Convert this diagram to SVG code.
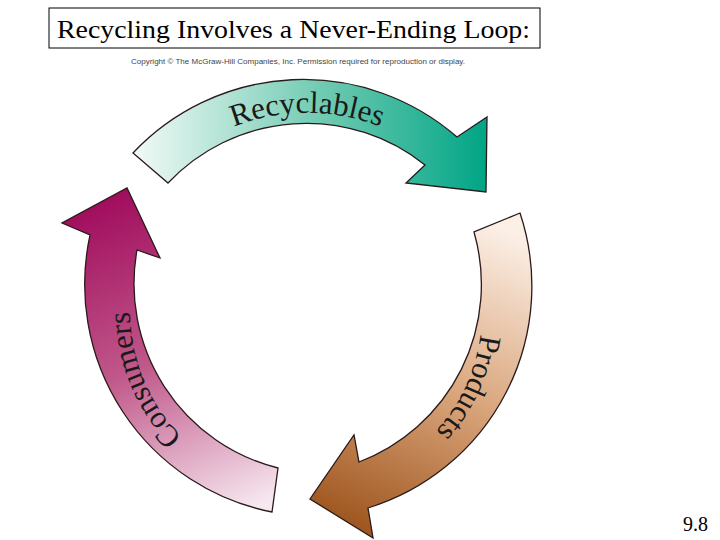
<svg xmlns="http://www.w3.org/2000/svg" width="720" height="540" viewBox="0 0 720 540">
<style>
.arrow{stroke:#2a1a1a;stroke-width:1.3;stroke-linejoin:miter}
.lbl{font-family:"Liberation Serif",serif;font-size:31px;fill:#1a1a1a}
</style>
<defs>
<linearGradient id="gR" x1="133" y1="0" x2="487" y2="0" gradientUnits="userSpaceOnUse"><stop offset="0" stop-color="#f2faf7"/><stop offset="0.55" stop-color="#6cc9b0"/><stop offset="1" stop-color="#00a586"/></linearGradient>
<linearGradient id="gP" x1="470" y1="215" x2="330" y2="530" gradientUnits="userSpaceOnUse"><stop offset="0" stop-color="#fcefe6"/><stop offset="0.5" stop-color="#d9a47a"/><stop offset="1" stop-color="#9a5018"/></linearGradient>
<linearGradient id="gC" x1="250" y1="510" x2="110" y2="190" gradientUnits="userSpaceOnUse"><stop offset="0" stop-color="#f7e8f0"/><stop offset="0.5" stop-color="#c0588a"/><stop offset="1" stop-color="#a00a5c"/></linearGradient>
<path id="tR" d="M166,171 A200,200 0 0 1 448,171"/>
<path id="tP" d="M479,282 A175,175 0 0 1 395,464"/>
<path id="tC" d="M219,465 A177,177 0 0 1 136,266"/>
</defs>
<rect width="720" height="540" fill="#fff"/>
<g id="title">
<rect x="49" y="8" width="491" height="40" fill="#fff" stroke="#000" stroke-width="1"/>
<text x="57" y="38" font-family="Liberation Serif,serif" font-size="26" textLength="473" lengthAdjust="spacingAndGlyphs" fill="#000">Recycling Involves a Never-Ending Loop:</text>
</g>
<text x="131" y="64" font-family="Liberation Sans,sans-serif" font-size="7.8" textLength="334" lengthAdjust="spacingAndGlyphs" fill="#444">Copyright © The McGraw-Hill Companies, Inc. Permission required for reproduction or display.</text>
<g id="connectors">
<g id="recyclables">
<path class="arrow" fill="url(#gR)" d="M133,153 A234,234 0 0 1 457,137 L487,117 L486,192 L406,183 L425,165 A190,190 0 0 0 168,183 Z"/>
<text class="lbl"><textPath href="#tR" startOffset="50%" text-anchor="middle">Recyclables</textPath></text>
</g>
<g id="products">
<path class="arrow" fill="url(#gP)" d="M520,213 A232,232 0 0 1 368,508 L373,538 L310,499 L354,435 L359,462 A190,190 0 0 0 474,232 Z"/>
<text class="lbl"><textPath href="#tP" startOffset="50%" text-anchor="middle">Products</textPath></text>
</g>
<g id="consumers">
<path class="arrow" fill="url(#gC)" d="M272,512 A232,232 0 0 1 90,235 L62,223 L127,188 L160,258 L137,250 A190,190 0 0 0 278,468 Z"/>
<text class="lbl"><textPath href="#tC" startOffset="50%" text-anchor="middle">Consumers</textPath></text>
</g>
</g>
<text x="683" y="531" font-family="Liberation Serif,serif" font-size="20" fill="#000">9.8</text>
</svg>
